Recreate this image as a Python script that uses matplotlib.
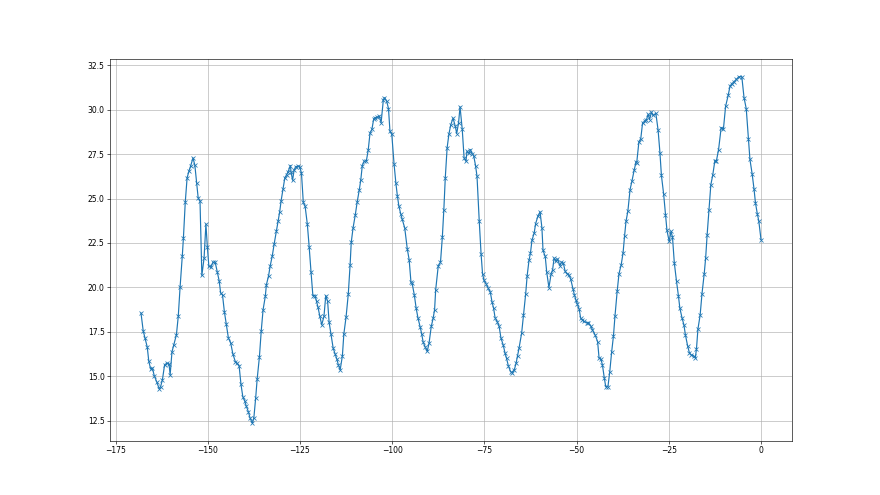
import matplotlib
matplotlib.use("Agg")
import matplotlib.pyplot as plt

hours = [
-168.1,-167.5,-167.0,-166.4,-166.0,-165.5,-165.0,-164.5,-163.8,-163.2,-162.8,-162.3,-161.7,-161.1,-160.5,-160.2,
-159.7,-159.2,-158.5,-158.0,-157.5,-156.9,-156.6,-156.1,-155.6,-155.1,-154.6,-154.0,-153.5,-153.0,-152.6,-152.1,
-151.6,-151.0,-150.5,-150.1,-149.7,-149.1,-148.6,-148.0,-147.4,-146.9,-146.5,-146.0,-145.5,-145.0,-144.4,-143.8,
-143.2,-142.5,-142.0,-141.5,-141.0,-140.5,-140.0,-139.6,-139.0,-138.5,-137.9,-137.5,-137.0,-136.6,-136.0,-135.5,
-135.0,-134.4,-134.1,-133.5,-133.1,-132.5,-132.0,-131.4,-130.9,-130.5,-130.1,-129.6,-129.1,-128.6,-128.2,-127.6,
-127.4,-127.0,-126.6,-126.2,-125.6,-125.1,-124.6,-124.1,-123.6,-123.0,-122.5,-122.0,-121.5,-120.9,-120.5,-120.1,
-119.6,-119.1,-118.5,-118.0,-117.5,-117.1,-116.6,-116.0,-115.5,-115.0,-114.6,-114.1,-113.5,-113.1,-112.5,-111.9,
-111.4,-111.1,-110.6,-110.0,-109.5,-108.9,-108.5,-108.1,-107.6,-107.0,-106.5,-106.0,-105.5,-105.0,-104.6,-104.1,
-103.5,-103.0,-102.4,-102.1,-101.5,-101.0,-100.6,-100.1,-99.5,-99.0,-98.6,-98.2,-97.7,-97.3,-96.6,-95.9,
-95.4,-94.9,-94.6,-94.0,-93.5,-93.0,-92.4,-92.0,-91.6,-91.1,-90.5,-90.0,-89.4,-88.9,-88.5,-88.2,
-87.5,-86.9,-86.4,-86.0,-85.6,-85.1,-84.6,-84.1,-83.5,-82.9,-82.5,-82.0,-81.6,-81.0,-80.5,-80.0,
-79.7,-79.2,-78.8,-78.3,-77.9,-77.4,-77.0,-76.4,-75.9,-75.5,-75.1,-74.5,-74.0,-73.4,-72.9,-72.5,
-72.1,-71.5,-71.0,-70.5,-69.9,-69.4,-69.0,-68.5,-67.9,-67.5,-66.9,-66.4,-66.0,-65.6,-64.9,-64.4,
-63.8,-63.4,-62.9,-62.5,-62.1,-61.5,-61.1,-60.5,-59.9,-59.4,-59.1,-58.5,-58.1,-57.5,-56.9,-56.5,
-56.1,-55.6,-55.2,-54.5,-54.1,-53.6,-53.1,-52.6,-52.0,-51.6,-51.0,-50.6,-50.2,-49.8,-49.3,-48.9,
-48.4,-48.0,-47.3,-46.8,-46.2,-45.7,-45.0,-44.3,-43.9,-43.4,-43.0,-42.5,-42.1,-41.5,-41.0,-40.5,
-40.0,-39.6,-39.0,-38.5,-37.9,-37.4,-37.0,-36.6,-36.1,-35.5,-35.0,-34.4,-33.9,-33.7,-33.1,-32.6,
-32.1,-31.5,-31.1,-30.6,-30.2,-29.7,-29.3,-28.5,-27.9,-27.4,-27.0,-26.4,-25.9,-25.5,-24.9,-24.4,
-24.0,-23.5,-22.9,-22.4,-22.0,-21.4,-20.9,-20.5,-19.9,-19.4,-18.9,-18.3,-17.8,-17.5,-17.1,-16.5,
-16.0,-15.4,-15.0,-14.6,-14.1,-13.6,-13.1,-12.5,-12.1,-11.5,-10.8,-10.2,-9.6,-8.9,-8.4,-7.9,
-7.3,-6.7,-6.0,-5.2,-4.6,-4.0,-3.4,-3.0,-2.4,-1.9,-1.5,-1.0,-0.6,0.0,
]

values = [
18.55,17.55,17.14,16.63,15.86,15.41,15.45,15.02,14.66,14.30,14.40,14.79,15.64,15.73,15.69,15.07,
16.37,16.78,17.33,18.36,20.02,21.78,22.78,24.79,26.17,26.54,26.86,27.29,26.88,25.88,25.04,24.85,
20.67,21.65,23.57,22.25,21.18,21.15,21.41,21.43,20.84,20.36,19.68,19.57,18.64,17.95,17.14,16.89,
16.26,15.80,15.72,15.58,14.55,13.85,13.62,13.34,13.00,12.63,12.35,12.66,13.79,14.85,16.07,17.55,
18.74,19.49,20.15,20.66,21.18,21.78,22.44,23.18,23.76,24.25,24.89,25.55,26.17,26.35,26.52,26.86,
26.48,26.03,26.59,26.79,26.82,26.79,26.45,24.79,24.56,23.55,22.27,20.86,19.54,19.54,19.21,18.87,
18.36,17.89,18.36,19.54,19.21,18.04,17.38,16.58,16.26,15.96,15.64,15.35,16.14,17.38,18.33,19.62,
21.28,22.53,23.35,24.08,24.79,25.51,26.07,26.86,27.10,27.12,27.72,28.70,28.89,29.49,29.55,29.58,
29.64,29.27,30.54,30.68,30.49,30.07,28.79,28.61,26.97,25.88,25.17,24.60,24.15,23.85,23.35,22.16,
21.56,20.28,20.24,19.58,18.83,18.27,17.76,17.38,16.92,16.67,16.39,16.86,17.80,18.25,18.74,19.87,
21.22,21.41,22.82,24.34,26.17,27.86,28.65,29.16,29.53,29.08,28.66,29.27,30.17,28.89,27.29,27.10,
27.67,27.54,27.76,27.52,27.42,26.86,26.26,23.76,21.90,20.77,20.39,20.19,19.96,19.74,19.15,18.83,
18.29,18.06,17.80,17.14,16.76,16.30,16.01,15.58,15.26,15.20,15.35,15.73,16.14,16.58,17.42,18.42,
19.64,20.66,21.52,21.94,22.65,23.06,23.59,24.00,24.25,23.35,22.08,21.74,20.86,19.99,20.77,20.99,
21.65,21.46,21.60,21.22,21.41,21.37,20.90,20.77,20.69,20.47,19.92,19.58,19.30,19.06,18.78,18.27,
18.17,18.08,18.02,18.02,17.84,17.61,17.33,16.95,16.01,15.96,15.64,14.92,14.41,14.41,15.26,16.35,
17.27,18.36,19.77,20.77,21.28,21.94,22.87,23.72,24.28,25.51,25.97,26.59,27.05,27.01,28.20,28.37,
29.27,29.36,29.41,29.74,29.45,29.87,29.68,29.79,28.85,27.58,26.30,25.26,24.10,23.21,22.59,23.15,
22.84,21.37,20.33,19.54,18.83,18.27,17.89,17.33,16.71,16.30,16.20,16.14,16.05,16.52,17.65,18.44,
19.64,20.76,21.67,22.97,24.38,25.78,26.30,27.14,27.11,27.76,29.00,28.89,30.19,30.81,31.33,31.47,
31.58,31.71,31.86,31.86,30.68,30.06,28.37,27.20,26.39,25.55,24.76,24.14,23.74,22.69,
]

plt.rcParams['font.family'] = ['DejaVu Sans']
plt.rcParams['font.size'] = 5.5

fig = plt.figure(figsize=(8.8, 4.95), dpi=100)
ax = fig.add_subplot(111)
ax.plot(hours, values, color='#1f77b4', marker='x', markersize=3.3,
        linewidth=0.85, markeredgewidth=0.55)
ax.grid(True, color='#b0b0b0', linewidth=0.45)
for s in ax.spines.values():
    s.set_linewidth(0.45)
ax.tick_params(width=0.45, length=2.0, pad=1.8, labelsize=5.5)
ax.set_yticks([12.5, 15.0, 17.5, 20.0, 22.5, 25.0, 27.5, 30.0, 32.5])
fig.savefig('out.png', dpi=100)
